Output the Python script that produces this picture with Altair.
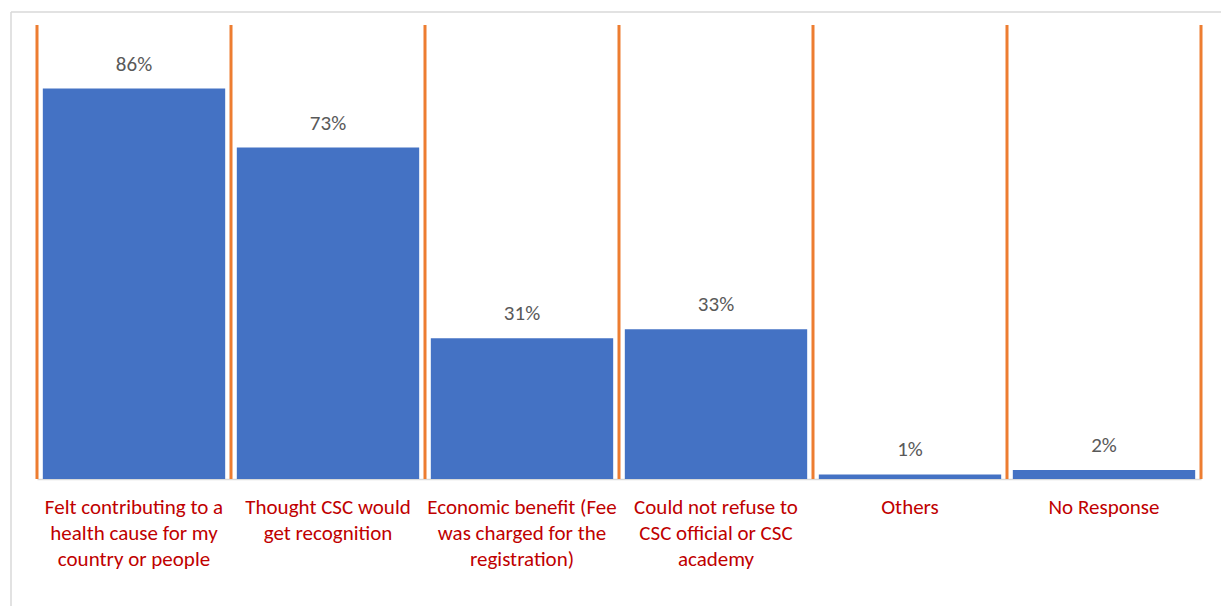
import altair as alt
import pandas as pd

categories = [
    "Felt contributing to a\nhealth cause for my\ncountry or people",
    "Thought CSC would\nget recognition",
    "Economic benefit (Fee\nwas charged for the\nregistration)",
    "Could not refuse to\nCSC official or CSC\nacademy",
    "Others",
    "No Response",
]
values = [0.86, 0.73, 0.31, 0.33, 0.01, 0.02]

df = pd.DataFrame({"category": categories, "value": values})

FONT = "Carlito, Lato, sans-serif"
W, H = 1164, 454

xenc = alt.X(
    "category:N",
    sort=None,
    title=None,
    scale=alt.Scale(paddingInner=0, paddingOuter=0),
    axis=alt.Axis(
        labelExpr="split(datum.label, '\\n')",
        labelAngle=0,
        labelColor="#C00000",
        labelFont=FONT,
        labelFontSize=21,
        labelLineHeight=26,
        labelPadding=17,
        ticks=False,
        domainColor="#D9D9D9",
        domainWidth=1.5,
        labelLimit=400,
    ),
)
yscale = alt.Scale(domain=[0, 1], nice=False)

base = alt.Chart(df)

bars = base.mark_bar(color="#4472C4", width={"band": 0.94}).encode(
    x=xenc,
    y=alt.Y("value:Q", scale=yscale, axis=None),
)

texts = base.mark_text(
    baseline="alphabetic", dy=-18, font=FONT, fontSize=21, color="#595959"
).encode(
    x=alt.X("category:N", sort=None),
    y=alt.Y("value:Q", scale=yscale),
    text=alt.Text("value:Q", format=".0%"),
)

left_edges = base.mark_rule(color="#ED7D31", strokeWidth=3).encode(
    x=alt.X("category:N", sort=None, bandPosition=0),
    y=alt.datum(0, scale=yscale),
    y2=alt.datum(1),
)

right_edge = base.transform_filter(
    alt.datum.category == categories[-1]
).mark_rule(color="#ED7D31", strokeWidth=3).encode(
    x=alt.X("category:N", sort=None, bandPosition=1),
    y=alt.datum(0, scale=yscale),
    y2=alt.datum(1),
)

one = alt.Data(values=[{"a": 1}])
border_top = alt.Chart(one).mark_rule(color="#D9D9D9", strokeWidth=1.5).encode(
    x=alt.value(-26), x2=alt.value(1190), y=alt.value(-13)
)
border_left = alt.Chart(one).mark_rule(color="#D9D9D9", strokeWidth=1.5).encode(
    x=alt.value(-26), y=alt.value(-13), y2=alt.value(600)
)

chart = (
    alt.layer(bars, texts, left_edges, right_edge, border_top, border_left)
    .properties(
        width=W,
        height=H,
        autosize=alt.AutoSizeParams(type="none"),
        padding={"left": 37, "top": 25, "right": 20, "bottom": 127},
        background="white",
    )
    .configure_view(stroke=None)
)

chart.save("out.html", embed_options={"renderer": "svg", "actions": False})
